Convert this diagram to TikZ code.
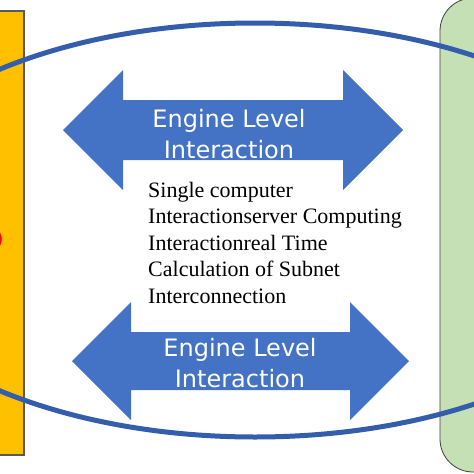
\documentclass[tikz,border=0pt]{standalone}
\usepackage{fontspec}
\setmainfont{Liberation Serif}
\newfontfamily\labelfont[Ligatures=NoCommon]{DejaVu Sans}
\usetikzlibrary{positioning}
\definecolor{boxorange}{RGB}{255,192,0}
\definecolor{boxgreen}{RGB}{197,224,180}
\definecolor{arrowblue}{RGB}{68,114,196}
\definecolor{ringblue}{RGB}{52,94,172}

\begin{document}
\begin{tikzpicture}[x=1pt, y=-1pt,
		orangepanel/.style={draw=black!65, line width=1.2pt, fill=boxorange},
		greenpanel/.style={draw=black!75, line width=0.8pt, fill=boxgreen, rounded corners=33pt},
		bigarrow/.style={fill=arrowblue},
		arrowtext/.style={text=white, align=center, inner sep=0pt, font=\labelfont\fontsize{24}{30.5}\selectfont}]
		\useasboundingbox (0,0) rectangle (474,474);
		
		% side panels and ring
		\draw[orangepanel] (-10,11) rectangle (24,455);
		\draw[greenpanel] (440,-2) rectangle (530,472);
		\draw (4.5,232) node[anchor=east, inner sep=0pt, text=red, font=\fontsize{56}{56}\selectfont\bfseries] (mark) {S};
		\draw[ringblue, line width=5pt] (255,230) ellipse [x radius=405, y radius=207];
		
		% two double arrows
		\fill[bigarrow] (63,130) -- (123,70) -- (123,100) -- (343,100) -- (343,70) -- (403,130)
		-- (343,190) -- (343,160) -- (123,160) -- (123,190) -- cycle;
		\fill[bigarrow] (72,361) -- (131,302) -- (131,332) -- (350,332) -- (350,302) -- (409,361)
		-- (350,420) -- (350,390) -- (131,390) -- (131,420) -- cycle;
		
		\draw (229,134) node[arrowtext] (toplink) {Engine Level\\Interaction}
		(240,363) node[arrowtext] (botlink) {Engine Level\\Interaction}
		(148,182) node[anchor=north west, inner sep=0pt, align=left, font=\fontsize{22}{26.5}\selectfont] (modes)
		{Single computer\\Interactionserver Computing\\Interactionreal Time\\Calculation of Subnet\\Interconnection};
	\end{tikzpicture}
\end{document}
